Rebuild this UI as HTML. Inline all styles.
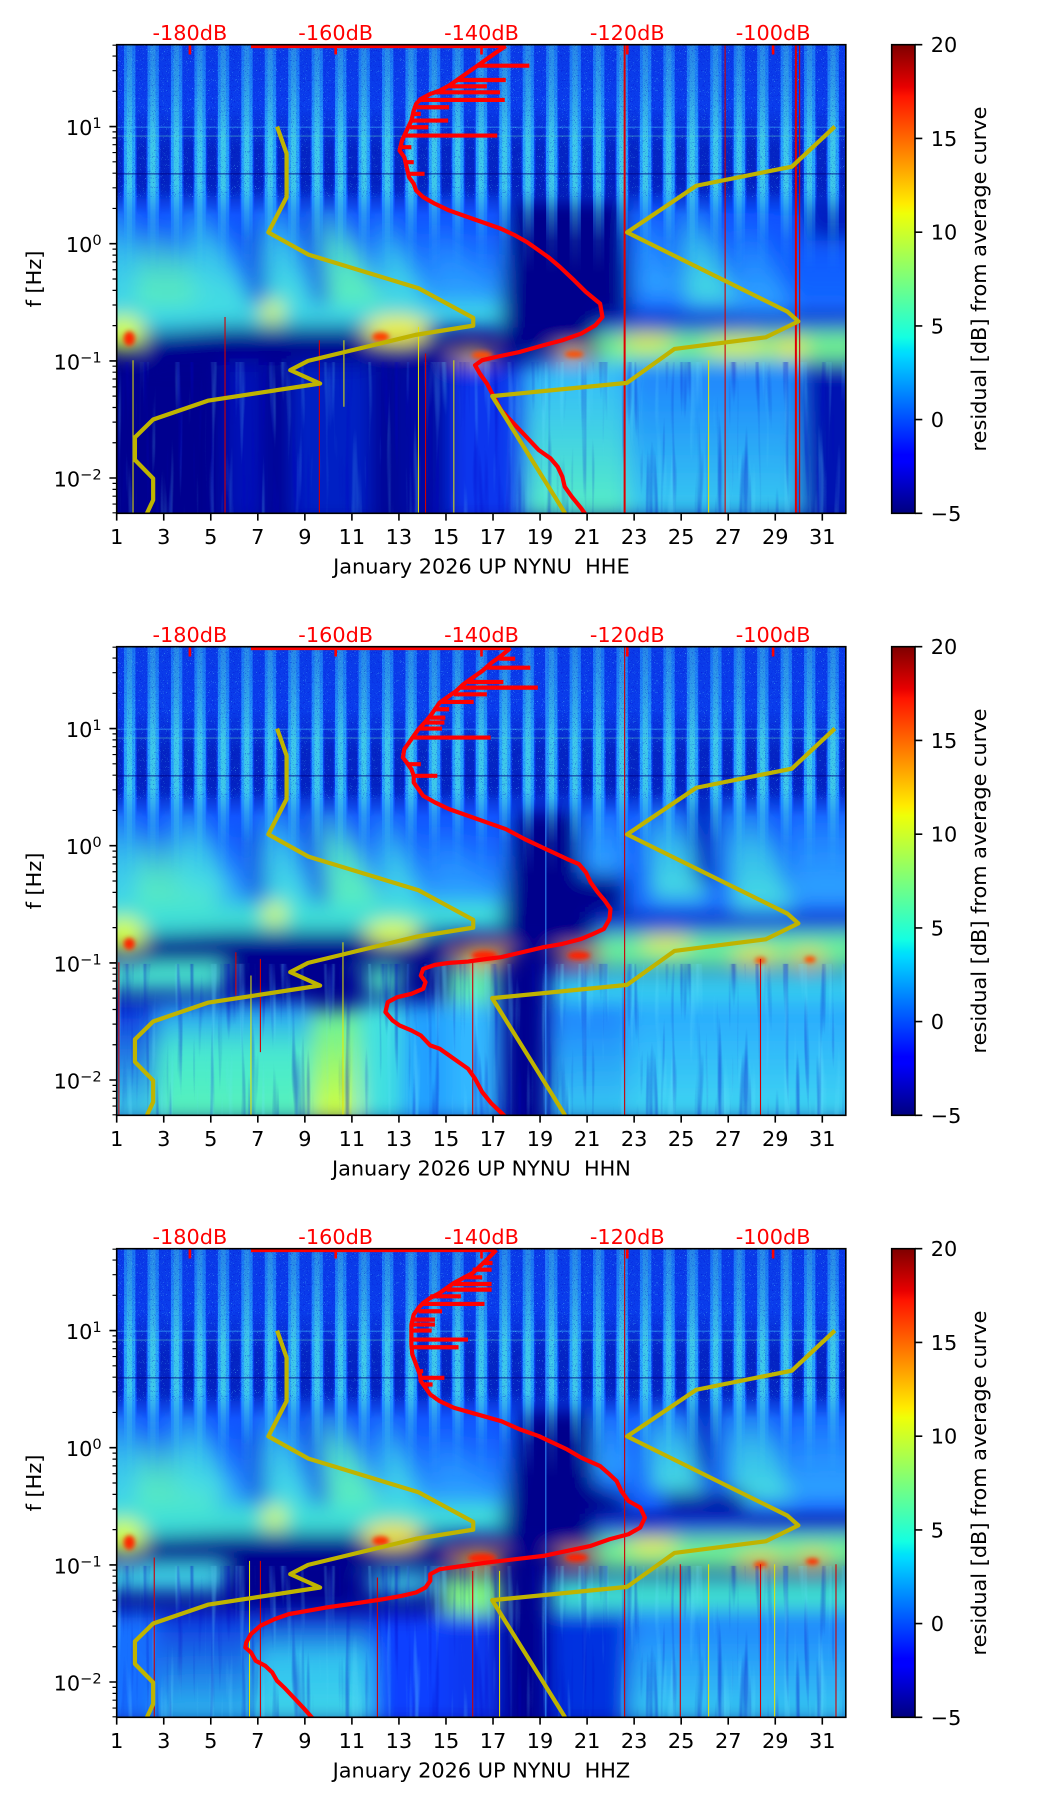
<!DOCTYPE html>
<html><head><meta charset="utf-8">
<style>
html,body{margin:0;padding:0;background:#fff;}
svg{display:block;}
text{font-family:"DejaVu Sans","Liberation Sans",sans-serif;font-size:20.83px;fill:#000;}
</style></head><body>
<svg width="1052" height="1806" viewBox="0 0 1052 1806" xmlns="http://www.w3.org/2000/svg">
<defs>
 <linearGradient id="jet" x1="0" y1="1" x2="0" y2="0">
  <stop offset="0" stop-color="#00007f"/><stop offset="0.11" stop-color="#0000ff"/>
  <stop offset="0.125" stop-color="#0000ff"/><stop offset="0.34" stop-color="#00dbff"/>
  <stop offset="0.35" stop-color="#00e5f7"/><stop offset="0.375" stop-color="#14ffe2"/>
  <stop offset="0.64" stop-color="#efff08"/><stop offset="0.66" stop-color="#ffec00"/>
  <stop offset="0.89" stop-color="#ff1300"/><stop offset="0.91" stop-color="#e80000"/>
  <stop offset="1" stop-color="#7f0000"/>
 </linearGradient>
 <linearGradient id="bgP" gradientUnits="userSpaceOnUse" x1="0" y1="0" x2="0" y2="1420">
  <stop offset="0" stop-color="#0a3ae8"/><stop offset="0.27" stop-color="#0a40f0"/>
  <stop offset="0.30" stop-color="#0838e8"/><stop offset="0.33" stop-color="#0c4cff"/>
  <stop offset="0.55" stop-color="#0c4cff"/><stop offset="0.585" stop-color="#0010a8"/>
  <stop offset="0.62" stop-color="#00008f"/><stop offset="1" stop-color="#00008f"/>
 </linearGradient>
 <linearGradient id="gW" x1="0" y1="0" x2="0" y2="1">
  <stop offset="0" stop-color="#1458ff" stop-opacity="0.15"/><stop offset="0.25" stop-color="#1460ff" stop-opacity="0.55"/>
  <stop offset="0.7" stop-color="#2898ff" stop-opacity="0.85"/><stop offset="1" stop-color="#38c8f0" stop-opacity="0.9"/>
 </linearGradient>
 <linearGradient id="gW2" x1="0" y1="0" x2="0" y2="1">
  <stop offset="0" stop-color="#1458ff" stop-opacity="0.1"/><stop offset="0.3" stop-color="#1060ff" stop-opacity="0.5"/>
  <stop offset="1" stop-color="#1a78ff" stop-opacity="0.75"/>
 </linearGradient>
 <linearGradient id="fanC" x1="0" y1="0" x2="0" y2="1"><stop offset="0" stop-color="#40d8e8" stop-opacity="0.1"/><stop offset="0.45" stop-color="#40d8e8" stop-opacity="0.75"/><stop offset="1" stop-color="#48e0e0" stop-opacity="1"/></linearGradient>
 <linearGradient id="fanG" x1="0" y1="0" x2="0" y2="1"><stop offset="0" stop-color="#58f0c0" stop-opacity="0.1"/><stop offset="0.45" stop-color="#58f0c0" stop-opacity="0.8"/><stop offset="1" stop-color="#60f4b8" stop-opacity="1"/></linearGradient>
 <linearGradient id="fanL" x1="0" y1="0" x2="0" y2="1"><stop offset="0" stop-color="#2898ff" stop-opacity="0.1"/><stop offset="0.45" stop-color="#2898ff" stop-opacity="0.75"/><stop offset="1" stop-color="#30a8ff" stop-opacity="1"/></linearGradient>
 <linearGradient id="gCy" x1="0" y1="0" x2="0" y2="1"><stop offset="0" stop-color="#30b8ff"/><stop offset="1" stop-color="#58f0c4"/></linearGradient>
 <linearGradient id="gLb" x1="0" y1="0" x2="0" y2="1"><stop offset="0" stop-color="#1c80ff"/><stop offset="1" stop-color="#38ccf0"/></linearGradient>
 <linearGradient id="gLc" x1="0" y1="0" x2="0" y2="1"><stop offset="0" stop-color="#28a8ff"/><stop offset="1" stop-color="#40d8f0"/></linearGradient>
 <linearGradient id="gNC" x1="0" y1="0" x2="0" y2="1"><stop offset="0" stop-color="#0a30e0"/><stop offset="1" stop-color="#40d8e8"/></linearGradient>
 <linearGradient id="gCG" x1="0" y1="0" x2="0" y2="1"><stop offset="0" stop-color="#2090ff"/><stop offset="0.4" stop-color="#48e8d0"/><stop offset="1" stop-color="#58f4b8"/></linearGradient>
 <linearGradient id="gYG" x1="0" y1="0" x2="0" y2="1"><stop offset="0" stop-color="#60f0a0"/><stop offset="1" stop-color="#d8ff38"/></linearGradient>
 <linearGradient id="gBC" x1="0" y1="0" x2="0" y2="1"><stop offset="0" stop-color="#0a30e0"/><stop offset="1" stop-color="#30c0f0"/></linearGradient>
 <linearGradient id="gBC2" x1="0" y1="0" x2="0" y2="1"><stop offset="0" stop-color="#0a20d0"/><stop offset="0.4" stop-color="#30c0f0"/><stop offset="1" stop-color="#40d8e8"/></linearGradient>
 <linearGradient id="mg" gradientUnits="userSpaceOnUse" x1="0" y1="0" x2="0" y2="700">
  <stop offset="0" stop-color="#fff" stop-opacity="0.45"/><stop offset="0.2" stop-color="#fff" stop-opacity="0.6"/>
  <stop offset="0.43" stop-color="#fff" stop-opacity="0.85"/><stop offset="0.63" stop-color="#fff" stop-opacity="0.85"/>
  <stop offset="0.74" stop-color="#fff" stop-opacity="0.45"/><stop offset="0.86" stop-color="#fff" stop-opacity="0.12"/>
  <stop offset="1" stop-color="#fff" stop-opacity="0"/>
 </linearGradient>
 <linearGradient id="mdg" gradientUnits="userSpaceOnUse" x1="0" y1="0" x2="0" y2="600">
  <stop offset="0" stop-color="#fff" stop-opacity="0"/><stop offset="0.33" stop-color="#fff" stop-opacity="0"/>
  <stop offset="0.55" stop-color="#fff" stop-opacity="0.55"/><stop offset="0.75" stop-color="#fff" stop-opacity="0.55"/>
  <stop offset="0.87" stop-color="#fff" stop-opacity="0"/><stop offset="1" stop-color="#fff" stop-opacity="0"/>
 </linearGradient>
 <mask id="tm" maskUnits="userSpaceOnUse" x="0" y="0" width="1600" height="700">
  <rect x="0" y="0" width="1600" height="700" fill="url(#mg)"/>
 </mask>
 <mask id="md" maskUnits="userSpaceOnUse" x="0" y="0" width="1600" height="600">
  <rect x="0" y="0" width="1600" height="600" fill="url(#mdg)"/>
 </mask>
 <pattern id="stp" patternUnits="userSpaceOnUse" x="31" y="0" width="49.7" height="1500">
  <rect x="0" y="0" width="24" height="1500" fill="#2cb4ff"/>
  <rect x="6" y="0" width="11" height="1500" fill="#48e0e8"/>
 </pattern>
 <pattern id="gap" patternUnits="userSpaceOnUse" x="31" y="0" width="49.7" height="1500">
  <rect x="27" y="0" width="20" height="1500" fill="#0010a0"/>
 </pattern>
 <filter id="bl" x="-10%" y="-10%" width="120%" height="120%"><feGaussianBlur stdDeviation="22 30"/></filter>
 <filter id="bs" x="-50%" y="-50%" width="200%" height="200%"><feGaussianBlur stdDeviation="5 7"/></filter>
 <filter id="speck" x="0" y="0" width="100%" height="100%">
  <feTurbulence type="fractalNoise" baseFrequency="0.45 0.7" numOctaves="1" seed="7"/>
  <feColorMatrix type="matrix" values="0 0 0 0 0.15  0 0 0 0 0.85  0 0 0 0 1  14 0 0 0 -9.5"/>
  <feComposite in2="SourceGraphic" operator="in"/>
 </filter>
 <filter id="speckD" x="0" y="0" width="100%" height="100%">
  <feTurbulence type="fractalNoise" baseFrequency="0.4 0.6" numOctaves="1" seed="19"/>
  <feColorMatrix type="matrix" values="0 0 0 0 0  0 0 0 0 0  0 0 0 0 0.55  12 0 0 0 -7.5"/>
  <feComposite in2="SourceGraphic" operator="in"/>
 </filter>
 <filter id="streakL" x="0" y="0" width="100%" height="100%">
  <feTurbulence type="fractalNoise" baseFrequency="0.07 0.0025" numOctaves="2" seed="11"/>
  <feColorMatrix type="matrix" values="0 0 0 0 0.15  0 0 0 0 0.8  0 0 0 0 1  4 0 0 0 -2.3"/>
  <feComposite in2="SourceGraphic" operator="in"/>
 </filter>
 <filter id="streakD" x="0" y="0" width="100%" height="100%">
  <feTurbulence type="fractalNoise" baseFrequency="0.07 0.0025" numOctaves="2" seed="23"/>
  <feColorMatrix type="matrix" values="0 0 0 0 0  0 0 0 0 0  0 0 0 0 0.56  4 0 0 0 -2.3"/>
  <feComposite in2="SourceGraphic" operator="in"/>
 </filter>
</defs>

<!-- ================= PANEL 1 (HHE) ================= -->
<g transform="translate(0,0)">
 <svg x="116.7" y="44.7" width="729.1" height="468.6" viewBox="15.4 12 1545.4 1408" preserveAspectRatio="none">
  <rect x="0" y="0" width="1600" height="1440" fill="url(#bgP)"/>
  <g filter="url(#bl)">
   <rect x="-40" y="440" width="880" height="400" fill="url(#gW)"/>
   <polygon points="-40,480 40,480 90,850 -40,850" fill="url(#fanC)"/>
   <polygon points="60,560 120,560 260,850 60,850" fill="url(#fanG)"/>
   <polygon points="150,480 200,480 300,800 180,800" fill="url(#fanC)"/>
   <polygon points="320,470 370,470 430,790 330,790" fill="url(#fanC)"/>
   <polygon points="430,480 480,480 590,815 470,815" fill="url(#fanG)"/>
   <polygon points="560,520 600,520 680,830 580,830" fill="url(#fanC)"/>
   <polygon points="680,560 720,560 830,835 700,835" fill="url(#fanL)"/>
   <polygon points="290,560 320,560 335,800 300,800" fill="#0020c8" opacity="0.6"/>
   <polygon points="405,500 428,500 465,800 438,800" fill="#0020c8" opacity="0.6"/>
   <rect x="1100" y="440" width="500" height="400" fill="url(#gW2)"/>
   <polygon points="1110,480 1150,480 1210,770 1120,770" fill="url(#fanL)"/>
   <polygon points="1200,480 1250,480 1330,790 1220,790" fill="url(#fanC)"/>
   <polygon points="1320,540 1370,540 1450,805 1330,805" fill="url(#fanL)"/>
   <polygon points="850,470 1090,470 1105,845 830,845" fill="#00008c"/>
   <polygon points="1460,470 1600,470 1600,600 1480,600" fill="#0010b0" opacity="0.8"/>
   <polygon points="-40,795 830,790 830,862 540,860 250,860 -40,890" fill="#3cd8e4"/>
   <polygon points="70,885 250,862 540,865 720,900 720,965 70,965" fill="#000090"/>
   <polygon points="830,830 1040,830 1040,925 830,925" fill="#00008c"/>
   <polygon points="1040,830 1600,830 1600,875 1040,880" fill="#0c30d0"/>
   <polygon points="1030,880 1600,870 1600,975 1030,975" fill="#70f090"/>
   <ellipse cx="1140" cy="905" rx="55" ry="28" fill="#e0f040"/>
   <ellipse cx="1330" cy="918" rx="70" ry="32" fill="#d8f048"/>
   <ellipse cx="1445" cy="925" rx="36" ry="28" fill="#f0e830"/>
   <ellipse cx="30" cy="880" rx="45" ry="55" fill="#d8ff30"/>
   <ellipse cx="345" cy="815" rx="24" ry="36" fill="#e0ff40"/>
   <ellipse cx="610" cy="870" rx="72" ry="44" fill="#f0f028"/>
   <ellipse cx="770" cy="945" rx="46" ry="22" fill="#ffd000"/>
   <ellipse cx="980" cy="942" rx="42" ry="18" fill="#ffc800"/>
   <rect x="240" y="975" width="90" height="470" fill="#0028e8" opacity="0.45"/>
   <rect x="380" y="975" width="180" height="470" fill="#0838f0" opacity="0.55"/>
   <rect x="600" y="975" width="120" height="470" fill="#0018c8" opacity="0.35"/>
   <rect x="720" y="975" width="160" height="470" fill="#0840ff" opacity="0.85"/>
   <rect x="880" y="965" width="220" height="470" fill="url(#gCy)"/>
   <rect x="1100" y="965" width="370" height="470" fill="url(#gLb)"/>
   <rect x="1470" y="965" width="130" height="470" fill="#0018c0" opacity="0.7"/>
  </g>
  <g filter="url(#bs)">
   <ellipse cx="42" cy="895" rx="12" ry="22" fill="#ff2800"/>
   <ellipse cx="575" cy="890" rx="18" ry="14" fill="#ff4000"/>
   <ellipse cx="790" cy="945" rx="22" ry="12" fill="#ff5000"/>
   <ellipse cx="985" cy="942" rx="20" ry="10" fill="#ff5000"/>
  </g>
  <rect x="0" y="965" width="1600" height="470" fill="#fff" filter="url(#streakL)" opacity="0.25"/>
  <rect x="0" y="965" width="1600" height="470" fill="#fff" filter="url(#streakD)" opacity="0.35"/>
  <rect x="0" y="0" width="1600" height="600" fill="url(#gap)" mask="url(#md)"/>
  <rect x="0" y="0" width="1600" height="700" fill="url(#stp)" mask="url(#tm)"/>
  <rect x="0" y="0" width="1600" height="470" fill="#fff" filter="url(#speck)" opacity="0.7"/>
  <rect x="0" y="0" width="1600" height="470" fill="#fff" filter="url(#speckD)" opacity="0.5"/>
  <rect x="0" y="258" width="1600" height="4" fill="#40c0ff" opacity="0.4"/>
  <rect x="0" y="285" width="1600" height="3" fill="#60e0c0" opacity="0.45"/>
  <rect x="0" y="398" width="1600" height="4" fill="#000080" opacity="0.6"/>
  <path d="M1092,0V1440M1455,0V1440" stroke="#e00000" stroke-width="2" vector-effect="non-scaling-stroke" fill="none"/>
  <path d="M1463,0V1440M1305,0V1440M245,830V1440M445,900V1440M670,940V1440" stroke="#d00000" stroke-width="1.1" vector-effect="non-scaling-stroke" fill="none"/>
  <path d="M497,900V1100M655,860V1440M730,960V1440M1270,960V1440M50,960V1440" stroke="#e8e800" stroke-width="1" vector-effect="non-scaling-stroke" fill="none"/>
  <g fill="none" stroke="#ff0000" stroke-width="4.2" stroke-linejoin="round">
   <path vector-effect="non-scaling-stroke" d="M300,16 L840,16"/>
   <path vector-effect="non-scaling-stroke" d="M840,16 L820,35 L800,55 L780,75 L760,95 L740,115 L720,135 L700,150 L680,160 L660,175 L650,190 L645,210 L640,240 L630,270 L620,300 L615,330 L625,350 L630,380 L635,410 L645,430 L650,450 L665,470 L690,490 L720,510 L760,530 L800,550 L830,565 L860,585 L885,605 L905,625 L930,650 L955,680 L985,720 L1010,755 L1040,790 L1045,830 L1030,855 L1000,880 L960,900 L920,915 L870,935 L820,950 L790,960 L775,975 L785,1000 L800,1030 L815,1070 L830,1110 L850,1140 L870,1170 L890,1200 L910,1230 L935,1255 L950,1280 L960,1310 L965,1340 L980,1370 L1000,1405 L1010,1425"/>
   <path vector-effect="non-scaling-stroke" d="M780,75H890M737,118H840M720,137H800M690,155H828M655,178H838M648,200H720M640,240H718M637,260H676M625,285H822M628,365H645M633,400H668M615,320H640M640,220H660"/>
  </g>
 </svg>
 <svg x="116.7" y="44.7" width="729.1" height="468.6" viewBox="-190 -1.699 100 4" preserveAspectRatio="none">
  <g fill="none" stroke="#bfb400" stroke-width="4.2" stroke-linejoin="round">
   <polyline vector-effect="non-scaling-stroke" points="-168.0,-1 -166.7,-0.770 -166.7,-0.398 -169.2,-0.097 -163.7,0.093 -148.6,0.380 -141.1,0.633 -141.1,0.699 -149.0,0.778 -163.75,1 -166.2,1.079 -162.1,1.193 -177.5,1.340 -185.0,1.500 -187.5,1.653 -187.5,1.845 -185.0,2.004 -185.0,2.1875 -185.85,2.301"/>
   <polyline vector-effect="non-scaling-stroke" points="-91.5,-1 -97.4,-0.658 -110.5,-0.495 -120.0,-0.097 -98.0,0.580 -96.5,0.663 -101.0,0.799 -113.5,0.898 -120.0,1.1875 -138.5,1.301 -128.5,2.301"/>
  </g>
 </svg>
 <rect x="116.7" y="44.7" width="729.1" height="468.6" fill="none" stroke="#000" stroke-width="1.6"/>
 <path d="M189.9,45.5V54.5M335.7,45.5V54.5M481.5,45.5V54.5M627.3,45.5V54.5M773.1,45.5V54.5" stroke="#ff0000" stroke-width="2.6"/>
 <g><text x="189.9" y="40" text-anchor="middle" style="fill:#ff0000">-180dB</text><text x="335.7" y="40" text-anchor="middle" style="fill:#ff0000">-160dB</text><text x="481.5" y="40" text-anchor="middle" style="fill:#ff0000">-140dB</text><text x="627.3" y="40" text-anchor="middle" style="fill:#ff0000">-120dB</text><text x="773.1" y="40" text-anchor="middle" style="fill:#ff0000">-100dB</text></g>
 <path d="M116.7,126.6h-7.3M116.7,243.7h-7.3M116.7,360.9h-7.3M116.7,478h-7.3" stroke="#000" stroke-width="1.6"/>
 <path d="M116.7,91.33h-4.2M116.7,70.7h-4.2M116.7,56.07h-4.2M116.7,45.2h-4.2M116.7,208.43h-4.2M116.7,187.8h-4.2M116.7,173.17h-4.2M116.7,161.81h-4.2M116.7,152.54h-4.2M116.7,144.7h-4.2M116.7,137.9h-4.2M116.7,131.91h-4.2M116.7,325.63h-4.2M116.7,305h-4.2M116.7,290.37h-4.2M116.7,279.01h-4.2M116.7,269.74h-4.2M116.7,261.9h-4.2M116.7,255.1h-4.2M116.7,249.11h-4.2M116.7,442.73h-4.2M116.7,422.1h-4.2M116.7,407.47h-4.2M116.7,396.11h-4.2M116.7,386.84h-4.2M116.7,379h-4.2M116.7,372.2h-4.2M116.7,366.21h-4.2M116.7,512.8h-4.2M116.7,504.04h-4.2M116.7,496.2h-4.2M116.7,489.4h-4.2M116.7,483.41h-4.2" stroke="#000" stroke-width="1.2"/>
 <text x="101.7" y="135.1" text-anchor="end">10<tspan font-size="14.6" dy="-7">1</tspan></text>
 <text x="101.7" y="252.2" text-anchor="end">10<tspan font-size="14.6" dy="-7">0</tspan></text>
 <text x="101.7" y="369.4" text-anchor="end">10<tspan font-size="14.6" dy="-7">−1</tspan></text>
 <text x="101.7" y="486.5" text-anchor="end">10<tspan font-size="14.6" dy="-7">−2</tspan></text>
 <path d="M116.7,513.3v7.3M163.74,513.3v7.3M210.78,513.3v7.3M257.82,513.3v7.3M304.86,513.3v7.3M351.9,513.3v7.3M398.94,513.3v7.3M445.98,513.3v7.3M493.02,513.3v7.3M540.06,513.3v7.3M587.1,513.3v7.3M634.14,513.3v7.3M681.18,513.3v7.3M728.22,513.3v7.3M775.26,513.3v7.3M822.3,513.3v7.3" stroke="#000" stroke-width="1.6"/>
 <g text-anchor="middle"><text x="116.7" y="544">1</text><text x="163.74" y="544">3</text><text x="210.78" y="544">5</text><text x="257.82" y="544">7</text><text x="304.86" y="544">9</text><text x="351.9" y="544">11</text><text x="398.94" y="544">13</text><text x="445.98" y="544">15</text><text x="493.02" y="544">17</text><text x="540.06" y="544">19</text><text x="587.1" y="544">21</text><text x="634.14" y="544">23</text><text x="681.18" y="544">25</text><text x="728.22" y="544">27</text><text x="775.26" y="544">29</text><text x="822.3" y="544">31</text></g>
 <text x="481.4" y="573.3" text-anchor="middle">January 2026 UP NYNU&#160; HHE</text>
 <text transform="translate(41,279) rotate(-90)" text-anchor="middle">f [Hz]</text>
 <rect x="891.7" y="44.7" width="23.3" height="468.6" fill="url(#jet)" stroke="#000" stroke-width="1.6"/>
 <path d="M915,44.7h7.3M915,138.4h7.3M915,232.2h7.3M915,325.9h7.3M915,419.6h7.3M915,513.3h7.3" stroke="#000" stroke-width="1.6"/>
 <text x="930.7" y="52.2">20</text><text x="930.7" y="145.9">15</text><text x="930.7" y="239.7">10</text><text x="930.7" y="333.4">5</text><text x="930.7" y="427.1">0</text><text x="930.7" y="520.8">−5</text>
 <text transform="translate(986,279) rotate(-90)" text-anchor="middle">residual [dB] from average curve</text>
</g>

<!-- ================= PANEL 2 (HHN) ================= -->
<g transform="translate(0,602)">
 <svg x="116.7" y="44.7" width="729.1" height="468.6" viewBox="15.4 12 1545.4 1408" preserveAspectRatio="none">
  <rect x="0" y="0" width="1600" height="1440" fill="url(#bgP)"/>
  <g filter="url(#bl)">
   <rect x="-40" y="440" width="880" height="400" fill="url(#gW)"/>
   <polygon points="-40,480 50,480 95,860 -40,860" fill="url(#fanC)"/>
   <polygon points="60,560 120,560 265,850 60,850" fill="url(#fanG)"/>
   <polygon points="130,480 185,480 260,760 150,760" fill="url(#fanC)"/>
   <polygon points="320,470 370,470 430,800 330,800" fill="url(#fanC)"/>
   <polygon points="430,480 485,480 585,810 470,810" fill="url(#fanG)"/>
   <polygon points="560,500 605,500 670,830 585,830" fill="url(#fanC)"/>
   <polygon points="680,560 725,560 830,835 700,835" fill="url(#fanL)"/>
   <polygon points="290,560 320,560 335,800 300,800" fill="#0020c8" opacity="0.6"/>
   <polygon points="405,500 428,500 465,800 438,800" fill="#0020c8" opacity="0.6"/>
   <rect x="1000" y="440" width="600" height="400" fill="url(#gW2)"/>
   <polygon points="1000,470 1090,470 1090,690 1010,690" fill="url(#fanL)"/>
   <polygon points="1130,470 1200,470 1270,770 1150,770" fill="url(#fanC)"/>
   <polygon points="1300,470 1380,470 1450,800 1320,800" fill="url(#fanC)"/>
   <polygon points="1430,470 1600,470 1600,780 1450,780" fill="url(#fanL)"/>
   <polygon points="860,500 990,500 1000,700 1090,700 1100,850 830,850" fill="#00008c"/>
   <polygon points="1230,460 1285,460 1285,720 1240,720" fill="#0018b0" opacity="0.8"/>
   <polygon points="-40,785 830,780 830,865 540,868 250,868 -40,885" fill="#40e0d8"/>
   <polygon points="70,880 250,868 540,868 620,880 720,880 720,960 70,960" fill="#000090"/>
   <polygon points="830,820 1000,820 1030,880 1030,905 830,905" fill="#00008c"/>
   <polygon points="1030,815 1600,815 1600,880 1030,880" fill="#0c38d8"/>
   <polygon points="1030,878 1600,870 1600,978 1030,978" fill="#68f09c"/>
   <ellipse cx="30" cy="880" rx="45" ry="55" fill="#d8ff30"/>
   <ellipse cx="350" cy="815" rx="24" ry="36" fill="#e0ff40"/>
   <ellipse cx="600" cy="870" rx="60" ry="35" fill="#e0ff40"/>
   <ellipse cx="790" cy="938" rx="65" ry="30" fill="#ffb800"/>
   <ellipse cx="990" cy="940" rx="48" ry="22" fill="#ffa800"/>
   <ellipse cx="1180" cy="905" rx="55" ry="28" fill="#e0f048"/>
   <ellipse cx="1370" cy="945" rx="50" ry="25" fill="#f0e030"/>
   <ellipse cx="1480" cy="950" rx="40" ry="25" fill="#f0d030"/>
   <polygon points="-40,962 245,962 245,1045 -40,1045" fill="#48e8d0"/>
   <ellipse cx="580" cy="1015" rx="45" ry="38" fill="#50f0c0"/>
   <polygon points="715,975 825,975 825,1085 715,1085" fill="#60f0b0"/>
   <polygon points="935,990 1600,990 1600,1085 935,1085" fill="#34ccf0"/>
   <rect x="-40" y="1080" width="140" height="360" fill="url(#gNC)"/>
   <rect x="100" y="1080" width="330" height="360" fill="url(#gCG)"/>
   <rect x="430" y="1100" width="100" height="340" fill="url(#gYG)"/>
   <rect x="530" y="1080" width="90" height="360" fill="#40e0e0"/>
   <rect x="620" y="1080" width="100" height="360" fill="#20a0ff"/>
   <rect x="720" y="1085" width="110" height="355" fill="#30b8ff"/>
   <rect x="930" y="1085" width="170" height="355" fill="url(#gLb)"/>
   <rect x="1100" y="1085" width="500" height="355" fill="url(#gLc)"/>
  </g>
  <g filter="url(#bs)">
   <ellipse cx="42" cy="905" rx="12" ry="18" fill="#ff2800"/>
   <ellipse cx="795" cy="940" rx="28" ry="14" fill="#ff2000"/>
   <ellipse cx="995" cy="940" rx="24" ry="12" fill="#ff2000"/>
   <ellipse cx="1380" cy="955" rx="12" ry="10" fill="#ff5000"/>
   <ellipse cx="1485" cy="952" rx="12" ry="10" fill="#ff5000"/>
  </g>
  <rect x="0" y="965" width="1600" height="470" fill="#fff" filter="url(#streakL)" opacity="0.3"/>
  <rect x="0" y="965" width="1600" height="470" fill="#fff" filter="url(#streakD)" opacity="0.35"/>
  <rect x="0" y="0" width="1600" height="600" fill="url(#gap)" mask="url(#md)"/>
  <rect x="0" y="0" width="1600" height="700" fill="url(#stp)" mask="url(#tm)"/>
  <rect x="0" y="0" width="1600" height="470" fill="#fff" filter="url(#speck)" opacity="0.7"/>
  <rect x="0" y="0" width="1600" height="470" fill="#fff" filter="url(#speckD)" opacity="0.5"/>
  <rect x="0" y="258" width="1600" height="4" fill="#40c0ff" opacity="0.4"/>
  <rect x="0" y="285" width="1600" height="3" fill="#60e0c0" opacity="0.45"/>
  <rect x="0" y="398" width="1600" height="4" fill="#000080" opacity="0.6"/>
  <path d="M1092,0V1440M20,960V1420M268,930V1060M320,950V1230M770,960V1420M1380,950V1420" stroke="#d00000" stroke-width="1.1" vector-effect="non-scaling-stroke" fill="none"/>
  <path d="M925,0V1440" stroke="#3090ff" stroke-width="1" vector-effect="non-scaling-stroke" fill="none"/>
  <path d="M495,900V1420M300,1000V1420" stroke="#e8e800" stroke-width="1" vector-effect="non-scaling-stroke" fill="none"/>
  <g fill="none" stroke="#ff0000" stroke-width="4.2" stroke-linejoin="round">
   <path vector-effect="non-scaling-stroke" d="M300,16 L850,16"/>
   <path vector-effect="non-scaling-stroke" d="M850,16 L830,40 L810,60 L790,85 L770,105 L750,125 L735,145 L715,165 L700,180 L690,200 L680,220 L668,240 L655,260 L645,280 L635,300 L625,320 L622,345 L630,360 L640,380 L645,400 L645,420 L655,440 L665,460 L690,480 L720,500 L760,520 L800,540 L840,560 L880,590 L910,610 L940,630 L970,650 L995,665 L1010,690 L1020,720 L1035,750 L1050,775 L1062,800 L1060,830 L1048,860 L1025,875 L1000,890 L960,905 L920,915 L890,925 L860,935 L830,945 L800,950 L760,958 L720,962 L690,968 L665,980 L660,1000 L670,1020 L665,1040 L640,1055 L610,1065 L590,1080 L585,1110 L600,1135 L615,1150 L640,1165 L660,1180 L680,1210 L700,1220 L720,1240 L740,1260 L760,1280 L775,1310 L790,1350 L810,1385 L840,1425"/>
   <path vector-effect="non-scaling-stroke" d="M826,48H860M800,75H892M760,118H835M745,135H908M730,155H800M700,178H772M690,200H720M680,225H712M668,240H710M655,258H705M645,285H808M632,365H660M645,400H695"/>
  </g>
 </svg>
 <svg x="116.7" y="44.7" width="729.1" height="468.6" viewBox="-190 -1.699 100 4" preserveAspectRatio="none">
  <g fill="none" stroke="#bfb400" stroke-width="4.2" stroke-linejoin="round">
   <polyline vector-effect="non-scaling-stroke" points="-168.0,-1 -166.7,-0.770 -166.7,-0.398 -169.2,-0.097 -163.7,0.093 -148.6,0.380 -141.1,0.633 -141.1,0.699 -149.0,0.778 -163.75,1 -166.2,1.079 -162.1,1.193 -177.5,1.340 -185.0,1.500 -187.5,1.653 -187.5,1.845 -185.0,2.004 -185.0,2.1875 -185.85,2.301"/>
   <polyline vector-effect="non-scaling-stroke" points="-91.5,-1 -97.4,-0.658 -110.5,-0.495 -120.0,-0.097 -98.0,0.580 -96.5,0.663 -101.0,0.799 -113.5,0.898 -120.0,1.1875 -138.5,1.301 -128.5,2.301"/>
  </g>
 </svg>
 <rect x="116.7" y="44.7" width="729.1" height="468.6" fill="none" stroke="#000" stroke-width="1.6"/>
 <path d="M189.9,45.5V54.5M335.7,45.5V54.5M481.5,45.5V54.5M627.3,45.5V54.5M773.1,45.5V54.5" stroke="#ff0000" stroke-width="2.6"/>
 <g><text x="189.9" y="40" text-anchor="middle" style="fill:#ff0000">-180dB</text><text x="335.7" y="40" text-anchor="middle" style="fill:#ff0000">-160dB</text><text x="481.5" y="40" text-anchor="middle" style="fill:#ff0000">-140dB</text><text x="627.3" y="40" text-anchor="middle" style="fill:#ff0000">-120dB</text><text x="773.1" y="40" text-anchor="middle" style="fill:#ff0000">-100dB</text></g>
 <path d="M116.7,126.6h-7.3M116.7,243.7h-7.3M116.7,360.9h-7.3M116.7,478h-7.3" stroke="#000" stroke-width="1.6"/>
 <path d="M116.7,91.33h-4.2M116.7,70.7h-4.2M116.7,56.07h-4.2M116.7,45.2h-4.2M116.7,208.43h-4.2M116.7,187.8h-4.2M116.7,173.17h-4.2M116.7,161.81h-4.2M116.7,152.54h-4.2M116.7,144.7h-4.2M116.7,137.9h-4.2M116.7,131.91h-4.2M116.7,325.63h-4.2M116.7,305h-4.2M116.7,290.37h-4.2M116.7,279.01h-4.2M116.7,269.74h-4.2M116.7,261.9h-4.2M116.7,255.1h-4.2M116.7,249.11h-4.2M116.7,442.73h-4.2M116.7,422.1h-4.2M116.7,407.47h-4.2M116.7,396.11h-4.2M116.7,386.84h-4.2M116.7,379h-4.2M116.7,372.2h-4.2M116.7,366.21h-4.2M116.7,512.8h-4.2M116.7,504.04h-4.2M116.7,496.2h-4.2M116.7,489.4h-4.2M116.7,483.41h-4.2" stroke="#000" stroke-width="1.2"/>
 <text x="101.7" y="135.1" text-anchor="end">10<tspan font-size="14.6" dy="-7">1</tspan></text>
 <text x="101.7" y="252.2" text-anchor="end">10<tspan font-size="14.6" dy="-7">0</tspan></text>
 <text x="101.7" y="369.4" text-anchor="end">10<tspan font-size="14.6" dy="-7">−1</tspan></text>
 <text x="101.7" y="486.5" text-anchor="end">10<tspan font-size="14.6" dy="-7">−2</tspan></text>
 <path d="M116.7,513.3v7.3M163.74,513.3v7.3M210.78,513.3v7.3M257.82,513.3v7.3M304.86,513.3v7.3M351.9,513.3v7.3M398.94,513.3v7.3M445.98,513.3v7.3M493.02,513.3v7.3M540.06,513.3v7.3M587.1,513.3v7.3M634.14,513.3v7.3M681.18,513.3v7.3M728.22,513.3v7.3M775.26,513.3v7.3M822.3,513.3v7.3" stroke="#000" stroke-width="1.6"/>
 <g text-anchor="middle"><text x="116.7" y="544">1</text><text x="163.74" y="544">3</text><text x="210.78" y="544">5</text><text x="257.82" y="544">7</text><text x="304.86" y="544">9</text><text x="351.9" y="544">11</text><text x="398.94" y="544">13</text><text x="445.98" y="544">15</text><text x="493.02" y="544">17</text><text x="540.06" y="544">19</text><text x="587.1" y="544">21</text><text x="634.14" y="544">23</text><text x="681.18" y="544">25</text><text x="728.22" y="544">27</text><text x="775.26" y="544">29</text><text x="822.3" y="544">31</text></g>
 <text x="481.4" y="573.3" text-anchor="middle">January 2026 UP NYNU&#160; HHN</text>
 <text transform="translate(41,279) rotate(-90)" text-anchor="middle">f [Hz]</text>
 <rect x="891.7" y="44.7" width="23.3" height="468.6" fill="url(#jet)" stroke="#000" stroke-width="1.6"/>
 <path d="M915,44.7h7.3M915,138.4h7.3M915,232.2h7.3M915,325.9h7.3M915,419.6h7.3M915,513.3h7.3" stroke="#000" stroke-width="1.6"/>
 <text x="930.7" y="52.2">20</text><text x="930.7" y="145.9">15</text><text x="930.7" y="239.7">10</text><text x="930.7" y="333.4">5</text><text x="930.7" y="427.1">0</text><text x="930.7" y="520.8">−5</text>
 <text transform="translate(986,279) rotate(-90)" text-anchor="middle">residual [dB] from average curve</text>
</g>

<!-- ================= PANEL 3 (HHZ) ================= -->
<g transform="translate(0,1204)">
 <svg x="116.7" y="44.7" width="729.1" height="468.6" viewBox="15.4 12 1545.4 1408" preserveAspectRatio="none">
  <rect x="0" y="0" width="1600" height="1440" fill="url(#bgP)"/>
  <g filter="url(#bl)">
   <rect x="-40" y="440" width="880" height="400" fill="url(#gW)"/>
   <polygon points="-40,480 50,480 95,860 -40,860" fill="url(#fanC)"/>
   <polygon points="60,560 120,560 265,850 60,850" fill="url(#fanG)"/>
   <polygon points="130,480 185,480 260,760 150,760" fill="url(#fanC)"/>
   <polygon points="320,470 370,470 430,800 330,800" fill="url(#fanC)"/>
   <polygon points="430,480 485,480 585,810 470,810" fill="url(#fanG)"/>
   <polygon points="560,500 605,500 670,830 585,830" fill="url(#fanC)"/>
   <polygon points="680,560 725,560 830,835 700,835" fill="url(#fanL)"/>
   <polygon points="290,560 320,560 335,800 300,800" fill="#0020c8" opacity="0.6"/>
   <polygon points="405,500 428,500 465,800 438,800" fill="#0020c8" opacity="0.6"/>
   <rect x="1000" y="440" width="600" height="330" fill="url(#gW2)"/>
   <polygon points="1020,470 1090,470 1100,700 1030,700" fill="url(#fanL)"/>
   <polygon points="1130,470 1210,470 1260,740 1150,740" fill="url(#fanC)"/>
   <polygon points="1300,470 1390,470 1450,780 1320,780" fill="url(#fanC)"/>
   <polygon points="1430,470 1600,470 1600,780 1450,780" fill="url(#fanL)"/>
   <polygon points="870,490 1020,490 1030,720 1100,760 1100,850 830,850" fill="#00008c"/>
   <polygon points="1180,740 1350,740 1360,860 1170,860" fill="#0010a0"/>
   <polygon points="1235,460 1285,460 1280,700 1245,700" fill="#0018b0" opacity="0.8"/>
   <polygon points="-40,785 830,780 830,865 540,868 250,868 -40,885" fill="#40e0d8"/>
   <polygon points="70,880 250,868 540,868 620,895 720,880 720,960 70,960" fill="#000090"/>
   <polygon points="830,830 1030,830 1030,905 830,905" fill="#00008c"/>
   <polygon points="1030,815 1600,815 1600,880 1030,880" fill="#0c38d8"/>
   <polygon points="1030,878 1600,870 1600,978 1030,978" fill="#70f094"/>
   <ellipse cx="30" cy="880" rx="45" ry="55" fill="#d8ff30"/>
   <ellipse cx="350" cy="820" rx="24" ry="36" fill="#e0ff40"/>
   <ellipse cx="600" cy="875" rx="65" ry="40" fill="#f0e020"/>
   <ellipse cx="780" cy="942" rx="60" ry="28" fill="#ffb000"/>
   <ellipse cx="985" cy="940" rx="48" ry="22" fill="#ffa800"/>
   <ellipse cx="1150" cy="905" rx="55" ry="28" fill="#e8f040"/>
   <ellipse cx="1380" cy="955" rx="50" ry="25" fill="#f0d030"/>
   <ellipse cx="1490" cy="950" rx="40" ry="25" fill="#f0c030"/>
   <polygon points="-40,962 245,962 245,1040 -40,1040" fill="#40d8e8"/>
   <ellipse cx="620" cy="1018" rx="80" ry="32" fill="#40d8e8"/>
   <polygon points="705,995 830,995 830,1110 705,1110" fill="#80f880"/>
   <polygon points="935,1000 1600,1000 1600,1100 935,1100" fill="#40e0d0"/>
   <rect x="-40" y="1100" width="140" height="340" fill="#1870ff"/>
   <rect x="100" y="1100" width="210" height="340" fill="url(#gBC)"/>
   <rect x="310" y="1100" width="250" height="340" fill="url(#gBC2)"/>
   <rect x="560" y="1110" width="160" height="330" fill="#0840ff"/>
   <rect x="720" y="1110" width="110" height="330" fill="#0838f0"/>
   <rect x="930" y="1100" width="170" height="340" fill="#0430e0"/>
   <rect x="1100" y="1100" width="500" height="340" fill="url(#gLb)"/>
  </g>
  <g filter="url(#bs)">
   <ellipse cx="42" cy="895" rx="12" ry="22" fill="#ff2800"/>
   <ellipse cx="575" cy="890" rx="18" ry="14" fill="#ff3000"/>
   <ellipse cx="790" cy="942" rx="30" ry="14" fill="#ff2000"/>
   <ellipse cx="990" cy="940" rx="24" ry="12" fill="#ff2000"/>
   <ellipse cx="1380" cy="962" rx="14" ry="10" fill="#ff4000"/>
   <ellipse cx="1490" cy="952" rx="14" ry="10" fill="#ff3000"/>
  </g>
  <rect x="0" y="965" width="1600" height="470" fill="#fff" filter="url(#streakL)" opacity="0.3"/>
  <rect x="0" y="965" width="1600" height="470" fill="#fff" filter="url(#streakD)" opacity="0.35"/>
  <rect x="0" y="0" width="1600" height="600" fill="url(#gap)" mask="url(#md)"/>
  <rect x="0" y="0" width="1600" height="700" fill="url(#stp)" mask="url(#tm)"/>
  <rect x="0" y="0" width="1600" height="470" fill="#fff" filter="url(#speck)" opacity="0.7"/>
  <rect x="0" y="0" width="1600" height="470" fill="#fff" filter="url(#speckD)" opacity="0.5"/>
  <rect x="0" y="258" width="1600" height="4" fill="#40c0ff" opacity="0.4"/>
  <rect x="0" y="285" width="1600" height="3" fill="#60e0c0" opacity="0.45"/>
  <rect x="0" y="398" width="1600" height="4" fill="#000080" opacity="0.6"/>
  <path d="M1092,0V1440M95,940V1420M320,950V1420M568,1000V1420M770,980V1420M1210,960V1420M1380,960V1420M1540,960V1420" stroke="#d00000" stroke-width="1.1" vector-effect="non-scaling-stroke" fill="none"/>
  <path d="M925,0V1440" stroke="#3090ff" stroke-width="1" vector-effect="non-scaling-stroke" fill="none"/>
  <path d="M297,950V1420M827,980V1420M1270,960V1420M1410,960V1420" stroke="#e8e800" stroke-width="1" vector-effect="non-scaling-stroke" fill="none"/>
  <g fill="none" stroke="#ff0000" stroke-width="4.2" stroke-linejoin="round">
   <path vector-effect="non-scaling-stroke" d="M300,16 L820,16"/>
   <path vector-effect="non-scaling-stroke" d="M820,16 L800,45 L785,65 L770,85 L750,100 L730,115 L715,130 L700,145 L680,160 L665,175 L655,190 L645,210 L640,240 L640,270 L640,300 L642,330 L650,360 L658,390 L660,410 L670,430 L680,450 L700,470 L730,490 L780,510 L830,530 L870,555 L910,575 L940,595 L970,615 L1000,640 L1040,665 L1060,690 L1075,710 L1085,740 L1100,770 L1125,790 L1135,820 L1125,850 L1100,870 L1060,885 L1020,905 L970,920 L920,935 L860,945 L800,955 L750,965 L700,975 L680,990 L680,1010 L670,1030 L650,1045 L620,1055 L580,1065 L520,1078 L460,1090 L420,1100 L380,1110 L350,1125 L320,1145 L300,1170 L290,1195 L288,1210 L300,1225 L310,1250 L330,1265 L345,1285 L355,1310 L370,1330 L390,1360 L410,1390 L432,1425"/>
   <path vector-effect="non-scaling-stroke" d="M795,55H812M770,75H810M750,98H790M730,118H810M715,135H810M680,155H745M665,178H795M655,200H705M645,225H690M640,240H690M640,258H683M640,285H760M642,308H740M655,380H665M658,400H710M665,420H685"/>
  </g>
 </svg>
 <svg x="116.7" y="44.7" width="729.1" height="468.6" viewBox="-190 -1.699 100 4" preserveAspectRatio="none">
  <g fill="none" stroke="#bfb400" stroke-width="4.2" stroke-linejoin="round">
   <polyline vector-effect="non-scaling-stroke" points="-168.0,-1 -166.7,-0.770 -166.7,-0.398 -169.2,-0.097 -163.7,0.093 -148.6,0.380 -141.1,0.633 -141.1,0.699 -149.0,0.778 -163.75,1 -166.2,1.079 -162.1,1.193 -177.5,1.340 -185.0,1.500 -187.5,1.653 -187.5,1.845 -185.0,2.004 -185.0,2.1875 -185.85,2.301"/>
   <polyline vector-effect="non-scaling-stroke" points="-91.5,-1 -97.4,-0.658 -110.5,-0.495 -120.0,-0.097 -98.0,0.580 -96.5,0.663 -101.0,0.799 -113.5,0.898 -120.0,1.1875 -138.5,1.301 -128.5,2.301"/>
  </g>
 </svg>
 <rect x="116.7" y="44.7" width="729.1" height="468.6" fill="none" stroke="#000" stroke-width="1.6"/>
 <path d="M189.9,45.5V54.5M335.7,45.5V54.5M481.5,45.5V54.5M627.3,45.5V54.5M773.1,45.5V54.5" stroke="#ff0000" stroke-width="2.6"/>
 <g><text x="189.9" y="40" text-anchor="middle" style="fill:#ff0000">-180dB</text><text x="335.7" y="40" text-anchor="middle" style="fill:#ff0000">-160dB</text><text x="481.5" y="40" text-anchor="middle" style="fill:#ff0000">-140dB</text><text x="627.3" y="40" text-anchor="middle" style="fill:#ff0000">-120dB</text><text x="773.1" y="40" text-anchor="middle" style="fill:#ff0000">-100dB</text></g>
 <path d="M116.7,126.6h-7.3M116.7,243.7h-7.3M116.7,360.9h-7.3M116.7,478h-7.3" stroke="#000" stroke-width="1.6"/>
 <path d="M116.7,91.33h-4.2M116.7,70.7h-4.2M116.7,56.07h-4.2M116.7,45.2h-4.2M116.7,208.43h-4.2M116.7,187.8h-4.2M116.7,173.17h-4.2M116.7,161.81h-4.2M116.7,152.54h-4.2M116.7,144.7h-4.2M116.7,137.9h-4.2M116.7,131.91h-4.2M116.7,325.63h-4.2M116.7,305h-4.2M116.7,290.37h-4.2M116.7,279.01h-4.2M116.7,269.74h-4.2M116.7,261.9h-4.2M116.7,255.1h-4.2M116.7,249.11h-4.2M116.7,442.73h-4.2M116.7,422.1h-4.2M116.7,407.47h-4.2M116.7,396.11h-4.2M116.7,386.84h-4.2M116.7,379h-4.2M116.7,372.2h-4.2M116.7,366.21h-4.2M116.7,512.8h-4.2M116.7,504.04h-4.2M116.7,496.2h-4.2M116.7,489.4h-4.2M116.7,483.41h-4.2" stroke="#000" stroke-width="1.2"/>
 <text x="101.7" y="135.1" text-anchor="end">10<tspan font-size="14.6" dy="-7">1</tspan></text>
 <text x="101.7" y="252.2" text-anchor="end">10<tspan font-size="14.6" dy="-7">0</tspan></text>
 <text x="101.7" y="369.4" text-anchor="end">10<tspan font-size="14.6" dy="-7">−1</tspan></text>
 <text x="101.7" y="486.5" text-anchor="end">10<tspan font-size="14.6" dy="-7">−2</tspan></text>
 <path d="M116.7,513.3v7.3M163.74,513.3v7.3M210.78,513.3v7.3M257.82,513.3v7.3M304.86,513.3v7.3M351.9,513.3v7.3M398.94,513.3v7.3M445.98,513.3v7.3M493.02,513.3v7.3M540.06,513.3v7.3M587.1,513.3v7.3M634.14,513.3v7.3M681.18,513.3v7.3M728.22,513.3v7.3M775.26,513.3v7.3M822.3,513.3v7.3" stroke="#000" stroke-width="1.6"/>
 <g text-anchor="middle"><text x="116.7" y="544">1</text><text x="163.74" y="544">3</text><text x="210.78" y="544">5</text><text x="257.82" y="544">7</text><text x="304.86" y="544">9</text><text x="351.9" y="544">11</text><text x="398.94" y="544">13</text><text x="445.98" y="544">15</text><text x="493.02" y="544">17</text><text x="540.06" y="544">19</text><text x="587.1" y="544">21</text><text x="634.14" y="544">23</text><text x="681.18" y="544">25</text><text x="728.22" y="544">27</text><text x="775.26" y="544">29</text><text x="822.3" y="544">31</text></g>
 <text x="481.4" y="573.3" text-anchor="middle">January 2026 UP NYNU&#160; HHZ</text>
 <text transform="translate(41,279) rotate(-90)" text-anchor="middle">f [Hz]</text>
 <rect x="891.7" y="44.7" width="23.3" height="468.6" fill="url(#jet)" stroke="#000" stroke-width="1.6"/>
 <path d="M915,44.7h7.3M915,138.4h7.3M915,232.2h7.3M915,325.9h7.3M915,419.6h7.3M915,513.3h7.3" stroke="#000" stroke-width="1.6"/>
 <text x="930.7" y="52.2">20</text><text x="930.7" y="145.9">15</text><text x="930.7" y="239.7">10</text><text x="930.7" y="333.4">5</text><text x="930.7" y="427.1">0</text><text x="930.7" y="520.8">−5</text>
 <text transform="translate(986,279) rotate(-90)" text-anchor="middle">residual [dB] from average curve</text>
</g>
</svg>
</body></html>
